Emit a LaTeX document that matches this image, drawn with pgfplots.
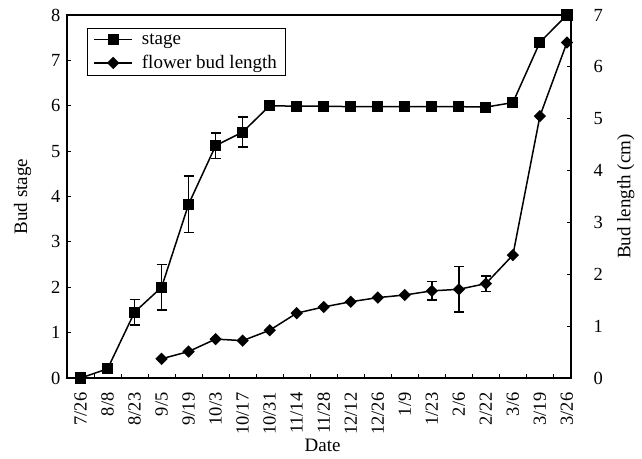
\documentclass[border=0pt]{standalone}
\usepackage{pgfplots}
\pgfplotsset{compat=1.18}
\usepackage{fontspec}
\setmainfont{Liberation Serif}

\pgfplotstableread{
x y e
0 0 0
1 0.2 0
2 1.45 0.28
3 2.0 0.5
4 3.83 0.62
5 5.12 0.28
6 5.42 0.33
7 6.0 0
8 5.99 0
9 5.99 0
10 5.98 0
11 5.98 0
12 5.98 0
13 5.98 0
14 5.98 0
15 5.97 0
16 6.07 0
17 7.4 0.1
18 8.0 0
}\stagetab

\pgfplotstableread{
x y e
3 0.37 0
4 0.51 0
5 0.75 0
6 0.72 0
7 0.92 0
8 1.25 0
9 1.37 0
10 1.47 0
11 1.55 0
12 1.60 0
13 1.68 0.18
14 1.71 0.44
15 1.82 0.15
16 2.37 0
17 5.05 0
18 6.47 0
}\budtab

\begin{document}
\begin{tikzpicture}
\pgfplotsset{
  every axis/.append style={
    scale only axis, width=504pt, height=363pt,
    xmin=-0.5, xmax=18.15,
    tick align=inside,
    major tick length=4pt, minor tick length=4pt,
    /pgf/number format/assume math mode=true,
    tick label style={font=\fontsize{18.5}{21}\selectfont},
    label style={font=\fontsize{19}{22}\selectfont},
    axis line style={line width=1.5pt},
    tick style={line width=0.8pt, black},
    clip=false,
  },
  stagestyle/.style={black, line width=1.5pt, mark=square*, mark size=4.8pt,
    error bars/.cd, y dir=both, y explicit,
    error bar style={line width=1.4pt},
    error mark options={rotate=90, mark size=5pt, line width=1.4pt}},
  budstyle/.style={black, line width=1.5pt, mark=square*, mark size=3.6pt, mark options={rotate=45},
    error bars/.cd, y dir=both, y explicit,
    error bar style={line width=1.4pt},
    error mark options={rotate=90, mark size=5pt, line width=1.4pt}},
}
\begin{axis}[name=ax,
  ymin=0, ymax=8, ytick={0,...,8}, ytick pos=left,
  xtick={0,...,18}, xtick pos=bottom,
  xticklabels={7/26,8/8,8/23,9/5,9/19,10/3,10/17,10/31,11/14,11/28,12/12,12/26,1/9,1/23,2/6,2/22,3/6,3/19,3/26},
  major x tick style={draw=none},
  minor xtick={0.5,1.5,...,17.5},
  xticklabel style={rotate=90, anchor=east, xshift=-11pt},
  yticklabel style={xshift=-3pt},
  xlabel={Date},
  xlabel style={at={(axis description cs:0.507,-0.187)}, anchor=center},
  ylabel={Bud stage},
  ylabel style={at={(axis description cs:-0.088,0.5)}, anchor=center},
  legend style={at={(axis description cs:0.04,0.964)}, anchor=north west,
    draw=black, line width=0.5pt, font=\fontsize{19}{22}\selectfont,
    inner xsep=6pt, inner ysep=3pt, row sep=6pt},
  legend cell align=left,
  legend image code/.code={\draw[mark repeat=2, mark phase=2] plot coordinates {(0pt,0pt) (19pt,0pt) (38pt,0pt)}; \path (45pt,0pt);},
]
\addplot[stagestyle] table[x=x, y=y, y error=e] {\stagetab};
\addlegendentry{stage}
\addlegendimage{black, line width=1.5pt, mark=square*, mark size=3.6pt, mark options={rotate=45}}
\addlegendentry{flower bud length}
\end{axis}
\begin{axis}[at={(ax.south west)}, anchor=south west,
  ymin=0, ymax=7, ytick={0,...,7}, ytick pos=right, yticklabel pos=right,
  xtick=\empty,
  yticklabel style={xshift=19pt},
  ylabel={Bud length (cm)},
  ylabel style={at={(axis description cs:1.109,0.5)}, anchor=center, rotate=0},
]
\addplot[budstyle] table[x=x, y=y, y error=e] {\budtab};
\end{axis}
\pgfresetboundingbox
\useasboundingbox ([shift={(-67pt,-81pt)}]ax.south west) rectangle ([shift={(71pt,15pt)}]ax.north east);
\end{tikzpicture}
\end{document}
